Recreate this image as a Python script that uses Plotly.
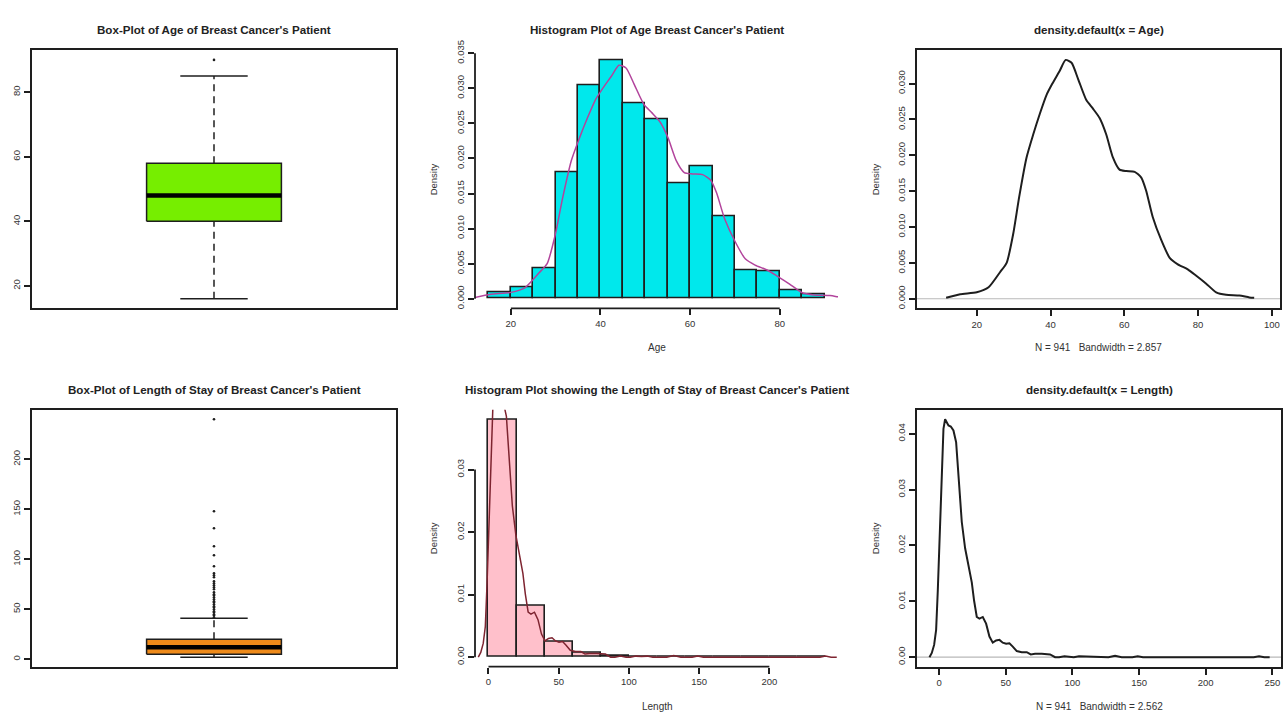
import plotly.graph_objects as go

W, H = 1284, 713

# ------------------------------------------------------------------ data
# box-plot statistics: lower whisker, Q1, median, Q3, upper whisker
age_box_stats = [16, 40, 48, 58, 85]
age_box_outliers = [90]
length_box_stats = [2, 5, 12, 20, 41]
length_box_outliers = [42, 44, 45, 47, 48, 50, 52, 53, 55, 57, 58, 60, 62, 64, 65,
                       67, 70, 72, 74, 76, 78, 82, 84, 86, 93, 104, 113, 131, 148, 240]

# histogram of Age (density scale)
age_breaks = [15, 20, 25, 30, 35, 40, 45, 50, 55, 60, 65, 70, 75, 80, 85, 90]
age_hist_density = [0.00094, 0.00164, 0.0044, 0.01796, 0.03036, 0.03405, 0.02792,
                    0.02554, 0.01646, 0.01885, 0.0117, 0.00402, 0.00388, 0.00126, 0.00056]

# histogram of Length of stay (density scale)
length_breaks = [0, 20, 40, 60, 80, 100, 120, 140, 160, 180, 200, 220, 240]
length_hist_density = [0.03805, 0.00829, 0.00244, 0.00069, 0.000266, 0.000106,
                       0.0000531, 0.0000531, 0, 0, 0, 0.0000531]

# kernel density of Age (N = 941, bw = 2.857)
age_dens_x = [11.7, 15.5, 20, 23.2, 26.3, 28.1, 29.9, 31.5, 33.5, 35.3, 37.1, 38.9,
              40.5, 42.5, 44.1, 45.7, 47.5, 49.7, 51.5, 53.3, 55.1, 56.9, 58.7, 60.5,
              62.8, 64.6, 65.9, 67.7, 70.0, 72.3, 74.5, 77.2, 79.5, 82.2, 84.9, 87.6,
              91.2, 93.9, 95.2]
age_dens_y = [0.00014, 0.00064, 0.00091, 0.0016, 0.0037, 0.005, 0.0091, 0.0142, 0.0197,
              0.0229, 0.0258, 0.0284, 0.0300, 0.0318, 0.0333, 0.0329, 0.0306, 0.0277,
              0.0265, 0.0252, 0.0229, 0.0197, 0.0180, 0.0178, 0.0177, 0.0169, 0.0151,
              0.0114, 0.0082, 0.0057, 0.0048, 0.0041, 0.0032, 0.0021, 0.0009, 0.00055,
              0.00046, 0.00018, 0.00014]

# kernel density of Length (N = 941, bw = 2.562)
len_dens_x = [-7.25, -5.5, -3.75, -2.25, -1, 0, 1, 2, 3.25, 4.5, 5.75, 7, 8.75, 10.75,
              12.75, 14.5, 17, 19.5, 22, 24.5, 26.25, 28.25, 30.25, 32.75, 35.25, 37.75,
              40.25, 42.75, 45.25, 47.75, 50.25, 52.75, 55.25, 58.25, 62, 65.75, 68.75,
              72, 77, 83.25, 87, 90, 94, 98, 101, 105, 109, 113, 117, 127, 132, 137, 145,
              149, 153, 236, 240, 244, 248]
len_dens_y = [0, 0.00076, 0.0022, 0.0049, 0.0119, 0.0189, 0.0265, 0.0353, 0.0409, 0.0426,
              0.0420, 0.0415, 0.0413, 0.0406, 0.0385, 0.0318, 0.0242, 0.0195, 0.0166,
              0.0134, 0.0101, 0.0072, 0.0069, 0.0072, 0.0060, 0.0037, 0.0026, 0.0030,
              0.0031, 0.0026, 0.0024, 0.0025, 0.0019, 0.0011, 0.0009, 0.0009, 0.0005,
              0.0006, 0.0006, 0.0005, 0.0, 0.0, 0.00017, 0.0, 0.0, 0.00017, 0.00012,
              0.00017, 0.0, 0.0, 0.00025, 0.0, 0.0, 0.00017, 0.0, 0.0, 0.00017, 0.0, 0.0]

titles = ["Box-Plot of Age of Breast Cancer's Patient",
          "Histogram Plot of Age Breast Cancer's Patient",
          "density.default(x = Age)",
          "Box-Plot of Length of Stay of Breast Cancer's Patient",
          "Histogram Plot showing the Length of Stay of Breast Cancer's Patient",
          "density.default(x = Length)"]
x_titles = ["", "Age", "N = 941   Bandwidth = 2.857",
            "", "Length", "N = 941   Bandwidth = 2.562"]
y_titles = ["", "Density", "Density", "", "Density", "Density"]

# ------------------------------------------------------------------ styling
FONT = "Liberation Sans, Arial, sans-serif"
INK = "#1e1e1e"
GREEN = "#76EE00"
ORANGE = "#EE8A1A"
CYAN = "#00E8EC"
PINK = "#FFC0CB"
MAGENTA = "#B2449C"
BROWN = "#7E2430"
FRAME_W = 1.8

BOX_HALF = 0.2
CAP_HALF = 0.1


def r_range(lo, hi):
    d = 0.04 * (hi - lo)
    return [lo - d, hi + d]


def dom_x(a, b):
    return [a / W, b / W]


def dom_y(top, bottom):
    return [1 - bottom / H, 1 - top / H]


fig = go.Figure()


def add_box(stats, outliers, color, ax):
    lo, q1, med, q3, hi = stats
    xa, ya = "x" + ax, "y" + ax
    fig.add_trace(go.Scatter(x=[1 - BOX_HALF, 1 + BOX_HALF, 1 + BOX_HALF, 1 - BOX_HALF, 1 - BOX_HALF],
                             y=[q1, q1, q3, q3, q1], fill="toself", fillcolor=color,
                             mode="lines", line=dict(color=INK, width=1.5),
                             xaxis=xa, yaxis=ya, hoverinfo="skip"))
    fig.add_trace(go.Scatter(x=[1 - BOX_HALF, 1 + BOX_HALF], y=[med, med], mode="lines",
                             line=dict(color="black", width=4.5), xaxis=xa, yaxis=ya))
    for a, b in ((q3, hi), (lo, q1)):
        fig.add_trace(go.Scatter(x=[1, 1], y=[a, b], mode="lines",
                                 line=dict(color=INK, width=1.5, dash="7px,5px"),
                                 xaxis=xa, yaxis=ya))
    for v in (lo, hi):
        fig.add_trace(go.Scatter(x=[1 - CAP_HALF, 1 + CAP_HALF], y=[v, v], mode="lines",
                                 line=dict(color=INK, width=1.5), xaxis=xa, yaxis=ya))
    fig.add_trace(go.Scatter(x=[1] * len(outliers), y=outliers, mode="markers",
                             marker=dict(color=INK, size=2.6), xaxis=xa, yaxis=ya))


def add_hist(breaks, dens, color, ax):
    mids = [(breaks[i] + breaks[i + 1]) / 2 for i in range(len(dens))]
    widths = [breaks[i + 1] - breaks[i] for i in range(len(dens))]
    fig.add_trace(go.Bar(x=mids, y=dens, width=widths,
                         marker=dict(color=color, line=dict(color=INK, width=1.6)),
                         xaxis="x" + ax, yaxis="y" + ax))


add_box(age_box_stats, age_box_outliers, GREEN, "")
add_hist(age_breaks, age_hist_density, CYAN, "2")
fig.add_trace(go.Scatter(x=age_dens_x, y=age_dens_y, mode="lines",
                         line=dict(color=MAGENTA, width=1.5, shape="spline", smoothing=0.6),
                         xaxis="x2", yaxis="y2"))
fig.add_trace(go.Scatter(x=age_dens_x, y=age_dens_y, mode="lines",
                         line=dict(color=INK, width=2, shape="spline", smoothing=0.6),
                         xaxis="x3", yaxis="y3"))
add_box(length_box_stats, length_box_outliers, ORANGE, "4")
add_hist(length_breaks, length_hist_density, PINK, "5")
fig.add_trace(go.Scatter(x=len_dens_x, y=len_dens_y, mode="lines",
                         line=dict(color=BROWN, width=1.5),
                         xaxis="x5", yaxis="y5"))
fig.add_trace(go.Scatter(x=len_dens_x, y=len_dens_y, mode="lines",
                         line=dict(color=INK, width=2),
                         xaxis="x6", yaxis="y6"))

# ------------------------------------------------------------------ axes
panels = [
    dict(xd=(32, 396), yd=(41, 303), xr=r_range(0.5, 1.5), yr=r_range(16, 90),
         xt=None, yt=[20, 40, 60, 80], yf="d", frame=True),
    dict(xd=(475, 838), yd=(41, 303), xr=r_range(15, 90), yr=r_range(0, max(age_hist_density)),
         xt=[20, 40, 60, 80], yt=[0, 0.005, 0.01, 0.015, 0.02, 0.025, 0.03, 0.035], yf=".3f", frame=False),
    dict(xd=(917, 1280), yd=(41, 303), xr=[3.8, 102.2], yr=r_range(0, max(age_dens_y)),
         xt=[20, 40, 60, 80, 100], yt=[0, 0.005, 0.01, 0.015, 0.02, 0.025, 0.03], yf=".3f", frame=True),
    dict(xd=(32, 396), yd=(406, 667), xr=r_range(0.5, 1.5), yr=r_range(2, 240),
         xt=None, yt=[0, 50, 100, 150, 200], yf="d", frame=True),
    dict(xd=(475, 839), yd=(406, 667), xr=r_range(0, 240), yr=r_range(0, max(length_hist_density)),
         xt=[0, 50, 100, 150, 200], yt=[0, 0.01, 0.02, 0.03], yf=".2f", frame=False),
    dict(xd=(917, 1281), yd=(406, 667), xr=[-16.6, 256.5], yr=r_range(0, max(len_dens_y)),
         xt=[0, 50, 100, 150, 200, 250], yt=[0, 0.01, 0.02, 0.03, 0.04], yf=".2f", frame=True),
]

tickfont = dict(family=FONT, size=9.5, color="#333")
layout_axes = {}
shapes = []
annotations = []
for i, p in enumerate(panels):
    n = "" if i == 0 else str(i + 1)
    xa = dict(domain=dom_x(*p["xd"]), range=p["xr"], anchor="y" + n, showgrid=False,
              zeroline=False, showline=p["frame"], mirror=p["frame"], linecolor=INK,
              linewidth=FRAME_W, tickfont=tickfont, tickcolor=INK, tickwidth=1.5)
    if p["xt"] is None:
        xa.update(showticklabels=False, ticks="")
    else:
        xa.update(tickmode="array", tickvals=p["xt"], ticks="outside", ticklen=6)
    ya = dict(domain=dom_y(*p["yd"]), range=p["yr"], anchor="x" + n, showgrid=False,
              zeroline=False, showline=p["frame"], mirror=p["frame"], linecolor=INK,
              linewidth=FRAME_W, tickfont=tickfont, tickcolor=INK, tickwidth=1.5,
              tickmode="array", tickvals=p["yt"], ticks="outside", ticklen=6,
              tickangle=-90, tickformat=p["yf"])
    layout_axes["xaxis" + n] = xa
    layout_axes["yaxis" + n] = ya

    if not p["frame"]:
        shapes.append(dict(type="line", xref="x" + n, yref="y" + n + " domain",
                           x0=p["xt"][0], x1=p["xt"][-1], y0=0, y1=0,
                           line=dict(color=INK, width=FRAME_W)))
        shapes.append(dict(type="line", xref="x" + n + " domain", yref="y" + n,
                           x0=0, x1=0, y0=p["yt"][0], y1=p["yt"][-1],
                           line=dict(color=INK, width=FRAME_W)))

    cx = (p["xd"][0] + p["xd"][1]) / 2
    cy = (p["yd"][0] + p["yd"][1]) / 2
    annotations.append(dict(text="<b>" + titles[i] + "</b>", xref="paper", yref="paper",
                            x=cx / W, y=1 - (p["yd"][0] - 21) / H, showarrow=False,
                            xanchor="center", yanchor="middle",
                            font=dict(family=FONT, size=11.6, color="#222")))
    if x_titles[i]:
        annotations.append(dict(text=x_titles[i], xref="paper", yref="paper",
                                x=cx / W, y=1 - (p["yd"][1] + 40) / H, showarrow=False,
                                xanchor="center", yanchor="middle",
                                font=dict(family=FONT, size=10, color="#333")))
    if y_titles[i]:
        annotations.append(dict(text=y_titles[i], xref="paper", yref="paper",
                                x=(p["xd"][0] - 42) / W, y=1 - cy / H, showarrow=False,
                                textangle=-90, xanchor="center", yanchor="middle",
                                font=dict(family=FONT, size=9.5, color="#333")))

for n in ("3", "6"):
    shapes.append(dict(type="line", xref="x" + n + " domain", yref="y" + n,
                       x0=0, x1=1, y0=0, y1=0, line=dict(color="#b8b8b8", width=1.2),
                       layer="below"))

fig.update_layout(width=W, height=H, margin=dict(l=0, r=0, t=0, b=0),
                  paper_bgcolor="white", plot_bgcolor="white", showlegend=False,
                  bargap=0, shapes=shapes, annotations=annotations, **layout_axes)

fig.write_html("out.html", config={"displayModeBar": False},
               post_script="document.body.style.margin='0px';document.body.style.overflow='hidden';")
